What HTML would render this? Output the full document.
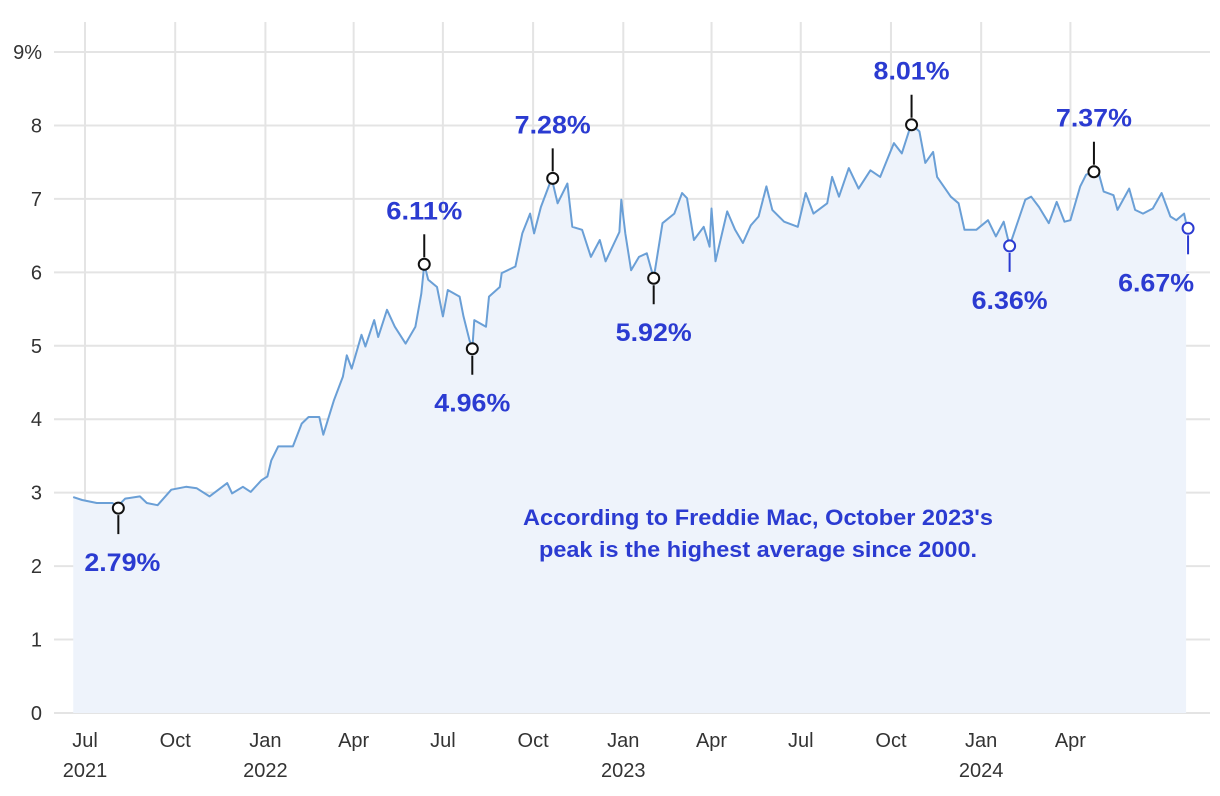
<!DOCTYPE html>
<html><head><meta charset="utf-8"><style>
html,body{margin:0;padding:0;background:#fff;}
svg{display:block;font-family:"Liberation Sans",sans-serif;}
</style></head><body>
<svg id="chart" width="1220" height="796" viewBox="0 0 1220 796" xmlns="http://www.w3.org/2000/svg">
<g id="grid"></g>
<g id="series"></g>
<g id="axes"></g>
<g id="annots"></g>
<text x="758" y="525" text-anchor="middle" font-size="22.5" font-weight="bold" fill="#2b3bd1" textLength="470" lengthAdjust="spacingAndGlyphs">According to Freddie Mac, October 2023's</text>
<text x="758" y="557" text-anchor="middle" font-size="22.5" font-weight="bold" fill="#2b3bd1" textLength="438" lengthAdjust="spacingAndGlyphs">peak is the highest average since 2000.</text>
</svg>
<script>
// days since 2021-07-01
const days = [-12,-3,12,28,33,41,56,63,74,88,103,114,127,145,150,161,169,180,186,190,197,212,221,228,239,243,254,263,267,272,282,286,295,299,308,316,327,337,343,346,350,359,365,370,382,386,392,395,397,409,412,423,425,439,446,454,458,465,476,482,492,497,507,516,525,531,545,547,551,557,565,573,580,589,601,609,614,621,631,637,639,643,655,663,671,679,687,695,701,713,727,735,743,757,762,769,779,789,801,811,825,833,841,843,851,857,865,869,883,891,897,909,921,929,937,943,959,965,973,983,991,999,1005,1015,1021,1029,1033,1039,1049,1053,1065,1071,1079,1089,1098,1107,1113,1121,1123];
const rates = [2.94,2.90,2.86,2.86,2.81,2.92,2.95,2.86,2.83,3.04,3.08,3.06,2.95,3.13,2.99,3.08,3.01,3.17,3.22,3.44,3.63,3.63,3.94,4.03,4.03,3.79,4.26,4.58,4.87,4.69,5.15,4.99,5.35,5.12,5.49,5.26,5.03,5.26,5.71,6.11,5.90,5.80,5.40,5.76,5.67,5.40,5.08,4.96,5.35,5.26,5.67,5.80,5.99,6.08,6.53,6.80,6.53,6.89,7.28,6.94,7.21,6.62,6.58,6.21,6.44,6.15,6.55,6.99,6.53,6.03,6.21,6.26,5.92,6.67,6.80,7.08,7.01,6.44,6.62,6.35,6.87,6.15,6.83,6.58,6.40,6.64,6.76,7.17,6.85,6.69,6.62,7.08,6.80,6.94,7.30,7.03,7.42,7.14,7.39,7.30,7.76,7.62,7.95,8.01,7.92,7.49,7.64,7.30,7.03,6.94,6.58,6.58,6.71,6.49,6.69,6.36,6.99,7.03,6.89,6.67,6.96,6.69,6.71,7.17,7.33,7.37,7.39,7.10,7.05,6.85,7.14,6.85,6.80,6.87,7.08,6.76,6.71,6.80,6.67];
const yTicks = [0,1,2,3,4,5,6,7,8,9];
const yTickLabels = ["0","1","2","3","4","5","6","7","8","9%"];
const xTickDays = [0,92,184,274,365,457,549,639,730,822,914,1005];
const xTickLabels = ["Jul","Oct","Jan","Apr","Jul","Oct","Jan","Apr","Jul","Oct","Jan","Apr"];
const xTickYears = ["2021","","2022","","","","2023","","","","2024",""];
const annDays = [34,346,395,477,580,843,943,1029,1125];
const annVals = [2.79,6.11,4.96,7.28,5.92,8.01,6.36,7.37,6.60];
const annLabels = ["2.79%","6.11%","4.96%","7.28%","5.92%","8.01%","6.36%","7.37%","6.67%"];
const annAbove = [false,true,false,true,false,true,false,true,false];
const annBlue = [false,false,false,false,false,false,true,false,true];

const NS="http://www.w3.org/2000/svg";
const X = d => 85 + d*0.9805;
const Y = v => 713 - v*73.44;
function mk(tag, attrs, parent){const e=document.createElementNS(NS,tag);for(const k in attrs)e.setAttribute(k,attrs[k]);parent.appendChild(e);return e;}
const grid=document.getElementById('grid'), axes=document.getElementById('axes'), series=document.getElementById('series'), annots=document.getElementById('annots');

yTicks.forEach((t,i)=>{
  const l=mk('line',{x1:54,x2:1210,y1:Y(t),y2:Y(t),stroke:'#e4e4e4','stroke-width':2},grid);
  
  
  const tx=mk('text',{x:42,y:Y(t)+7,'text-anchor':'end','font-size':20,fill:'#333'},axes);
  tx.textContent=yTickLabels[i];
  
  
});
xTickDays.forEach((d,i)=>{
  const l=mk('line',{x1:X(d),x2:X(d),y1:22,y2:713,stroke:'#e4e4e4','stroke-width':2},grid);
  
  
  const tx=mk('text',{x:X(d),y:747,'text-anchor':'middle','font-size':20,fill:'#333'},axes);
  tx.textContent=xTickLabels[i];
  
  
  if(xTickYears[i]){
    const ty=mk('text',{x:X(d),y:777,'text-anchor':'middle','font-size':20,fill:'#333'},axes);
    ty.textContent=xTickYears[i];
    
    
  }
});
let pts=days.map((d,i)=>X(d).toFixed(1)+','+Y(rates[i]).toFixed(1));
const area=mk('polygon',{points:X(days[0]).toFixed(1)+','+Y(0)+' '+pts.join(' ')+' '+X(days[days.length-1]).toFixed(1)+','+Y(0),fill:'#eef3fb'},series);


const line=mk('polyline',{points:pts.join(' '),fill:'none',stroke:'#6a9fd6','stroke-width':2,'stroke-linejoin':'round'},series);



const FS=25;
annDays.forEach((d,i)=>{
  const cx=X(d), cy=Y(annVals[i]);
  const col=annBlue[i]?'#2b3bd1':'#111';
  const y1=annAbove[i]?cy-7:cy+7, y2=annAbove[i]?cy-30:cy+26;
  const st=mk('line',{x1:cx,x2:cx,y1:y1,y2:y2,stroke:col,'stroke-width':2},annots);
  
  
  const c=mk('circle',{cx:cx,cy:cy,r:5.5,fill:'#fff',stroke:col,'stroke-width':2},annots);
  
  
  const center=annAbove[i]?cy-54:cy+54;
  const ly=center+0.36*FS;
  let lx=cx; if(i===8) lx=cx-32; if(i===0) lx=cx+4;
  const t=mk('text',{x:lx,y:ly,'text-anchor':'middle','font-size':FS,'font-weight':'bold',fill:'#2b3bd1',textLength:76,lengthAdjust:'spacingAndGlyphs'},annots);
  t.textContent=annLabels[i];
  
  
});
</script>
</body></html>
